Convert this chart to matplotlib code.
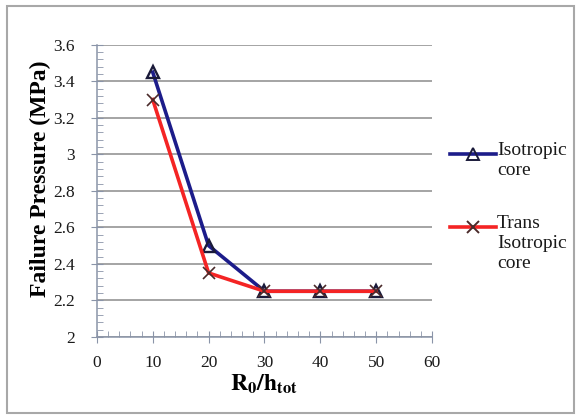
import matplotlib
matplotlib.use("Agg")
import matplotlib.pyplot as plt
from matplotlib.lines import Line2D
from matplotlib.patches import Rectangle
from matplotlib.ticker import MultipleLocator, FuncFormatter

plt.rcParams['font.family'] = ['Liberation Serif', 'DejaVu Serif']
plt.rcParams['mathtext.fontset'] = 'stix'

# R0/h_tot ratio vs. failure pressure
ratio = [10, 20, 30, 40, 50]
isotropic = [3.45, 2.50, 2.25, 2.25, 2.25]
trans_isotropic = [3.30, 2.35, 2.25, 2.25, 2.25]

series_labels = ["Isotropic\ncore", "Trans\nIsotropic\ncore"]
blue = "#1c1c8a"
red = "#f42424"
axis_col = "#8a94a8"

fig = plt.figure(figsize=(5.8, 4.19), dpi=100)
ax = fig.add_axes([0.167, 0.196, 0.578, 0.697])

ax.plot(ratio, isotropic, color=blue, lw=2.6, marker='^', ms=9,
        mfc='none', mec='#1a1a3a', mew=1.7, zorder=3)
ax.plot(ratio, trans_isotropic, color=red, lw=2.6, marker='x', ms=8,
        mec='#4a2a2a', mew=1.2, zorder=4)

ax.set_xlim(0, 60)
ax.set_ylim(2, 3.6)
ax.xaxis.set_major_locator(MultipleLocator(10))
ax.xaxis.set_minor_locator(MultipleLocator(2))
ax.yaxis.set_major_locator(MultipleLocator(0.2))
ax.yaxis.set_minor_locator(MultipleLocator(0.04))
ax.yaxis.set_major_formatter(FuncFormatter(lambda v, p: f"{v:.1f}".rstrip('0').rstrip('.')))

ax.grid(axis='y', color='#8c8c8c', lw=1.1)
ax.set_axisbelow(True)
for s in ('top', 'right'):
    ax.spines[s].set_visible(False)
for s in ('left', 'bottom'):
    ax.spines[s].set_color(axis_col)
    ax.spines[s].set_linewidth(1.1)
ax.tick_params(which='major', direction='inout', length=8, color=axis_col,
               labelsize=12.5, labelcolor='#1a1a1a')
ax.tick_params(axis='y', which='major', pad=12)
ax.tick_params(axis='x', which='major', pad=9)
ax.tick_params(which='minor', direction='in', length=4, color=axis_col)

ax.set_ylabel("Failure Pressure (MPa)", fontsize=17, fontweight='bold')
ax.yaxis.set_label_coords(-0.137, 0.54)
ax.set_xlabel(r"$\mathbf{R_0/h_{tot}}$", fontsize=17, labelpad=1)

# legend drawn on the figure, handle aligned with the first text line
leg_items = [(blue, '^', 'none', '#1a1a3a', 0.632), (red, 'x', red, '#4a2a2a', 0.458)]
for (col, mk, mfc, mec, yy), lab in zip(leg_items, series_labels):
    fig.add_artist(Line2D([0.776, 0.856], [yy, yy], color=col, lw=2.6,
                          transform=fig.transFigure))
    fig.add_artist(Line2D([0.816], [yy], ls='none', marker=mk, ms=8, mfc=mfc,
                          mec=mec, mew=1.4, transform=fig.transFigure))
    fig.text(0.857, yy + 0.028, lab, fontsize=14, va='top', ha='left',
             linespacing=1.2, color='#1a1a1a')

fig.add_artist(Rectangle((0.012, 0.014), 0.978, 0.972, transform=fig.transFigure,
                         fill=False, ec='#a8a8a8', lw=1.5))

fig.savefig("out.png", dpi=100)
